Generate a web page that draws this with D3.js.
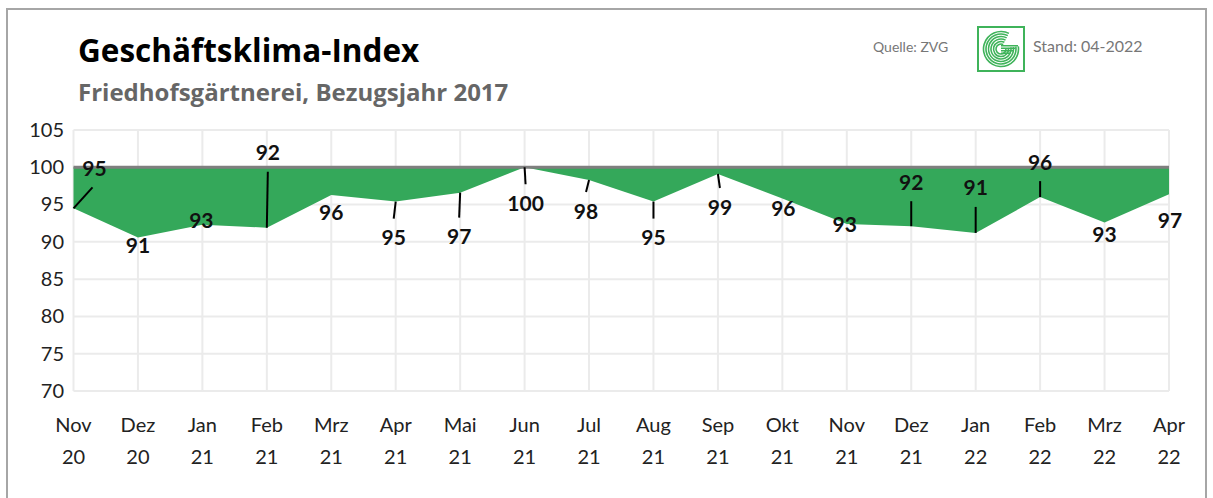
<!DOCTYPE html>
<html lang="de">
<head>
<meta charset="UTF-8">
<title>Geschäftsklima-Index</title>
<script src="https://cdn.jsdelivr.net/npm/d3@7"></script>
<style>
  body { margin: 0; background: #fff; }
  svg text { font-family: Lato, "Open Sans", sans-serif; }
  svg text.head { font-family: "Open Sans", Lato, sans-serif; }
</style>
</head>
<body>
<script>
// data
const months = ["Nov", "Dez", "Jan", "Feb", "Mrz", "Apr", "Mai", "Jun", "Jul", "Aug", "Sep", "Okt", "Nov", "Dez", "Jan", "Feb", "Mrz", "Apr"];
const years  = ["20", "20", "21", "21", "21", "21", "21", "21", "21", "21", "21", "21", "21", "21", "22", "22", "22", "22"];
const index  = [94.5, 90.6, 92.3, 91.9, 96.3, 95.4, 96.6, 100, 98.3, 95.4, 99.1, 95.8, 92.4, 92.1, 91.2, 96.0, 92.6, 96.4];
const valueLabels = ["95", "91", "93", "92", "96", "95", "97", "100", "98", "95", "99", "96", "93", "92", "91", "96", "93", "97"];
const baseline = 100;
const yTicks = [70, 75, 80, 85, 90, 95, 100, 105];

// label placement (px offset from the point), like the dragged Excel labels
const labelOffsets = [[21, -40], [0, 8], [-1, -4], [1, -75], [0, 18], [-2, 36], [-1, 44], [1, 36],
                      [-3, 31], [0, 36], [2, 33], [1, 10], [-2, 0], [0, -44], [0, -45], [0, -35], [0, 12], [1, 26]];

const W = 1213, H = 498;
const svg = d3.select("body").append("svg").attr("width", W).attr("height", H);

// frame
svg.append("rect").attr("x", 7).attr("y", 9).attr("width", 1199).attr("height", 520)
  .attr("fill", "none").attr("stroke", "#a6a6a6").attr("stroke-width", 2);

// titles
svg.append("text").attr("class", "head").attr("x", 78).attr("y", 62).text("Geschäftsklima-Index")
  .attr("font-size", 31.5).attr("font-weight", "bold").attr("fill", "#000");
svg.append("text").attr("class", "head").attr("x", 78).attr("y", 101).text("Friedhofsgärtnerei, Bezugsjahr 2017")
  .attr("font-size", 24).attr("font-weight", "bold").attr("fill", "#666");

svg.append("text").attr("x", 873).attr("y", 52).text("Quelle: ZVG")
  .attr("font-size", 14).attr("fill", "#777");
svg.append("text").attr("x", 1033).attr("y", 52).text("Stand: 04-2022")
  .attr("font-size", 16).attr("fill", "#777");

// logo
const logo = svg.append("g").attr("transform", "translate(977,26)");
logo.append("rect").attr("x", 1).attr("y", 1).attr("width", 46).attr("height", 44)
  .attr("fill", "#fff").attr("stroke", "#3fb35a").attr("stroke-width", 2);
const arc = d3.arc();
[5, 7.5, 10, 12.5, 15, 17.5].forEach(r => {
  logo.append("path").attr("transform", "translate(24,23)")
    .attr("d", arc({innerRadius: r - 0.8, outerRadius: r + 0.8, startAngle: Math.PI * 0.45, endAngle: Math.PI * 2.15}))
    .attr("fill", "#3fb35a");
});
[0, 2.5, 5, 7.5].forEach(d => {
  logo.append("rect").attr("x", 24).attr("y", 19 + d).attr("width", 17 - d).attr("height", 1.5).attr("fill", "#3fb35a");
});

// scales
const x = d3.scalePoint().domain(d3.range(months.length)).range([73.5, 1169]);
const y = d3.scaleLinear().domain([70, 105]).range([391, 130]);

// grid
svg.append("g").selectAll("line.h").data(yTicks).join("line")
  .attr("x1", x(0)).attr("x2", x(months.length - 1))
  .attr("y1", d => y(d)).attr("y2", d => y(d))
  .attr("stroke", "#ebebeb").attr("stroke-width", 2);
svg.append("g").selectAll("line.v").data(d3.range(months.length)).join("line")
  .attr("x1", d => x(d)).attr("x2", d => x(d))
  .attr("y1", y(105)).attr("y2", y(70))
  .attr("stroke", "#ebebeb").attr("stroke-width", 2);

// y axis labels
const yAxis = svg.append("g").attr("transform", "translate(64,0)")
  .call(d3.axisLeft(y).tickValues(yTicks).tickSize(0).tickPadding(0));
yAxis.select(".domain").remove();
yAxis.selectAll("text").attr("font-size", 20).attr("fill", "#222")
  .style("font-family", "Lato, 'Open Sans', sans-serif");

// x axis labels (two lines)
const xl = svg.append("g").selectAll("text").data(d3.range(months.length)).join("text")
  .attr("x", d => x(d)).attr("text-anchor", "middle").attr("font-size", 20).attr("fill", "#222");
xl.append("tspan").attr("x", d => x(d)).attr("y", 432).text(d => months[d]);
xl.append("tspan").attr("x", d => x(d)).attr("y", 464).text(d => years[d]);

// area between 100 and the index
const area = d3.area().x((d, i) => x(i)).y0(y(baseline)).y1(d => y(d));
svg.append("path").datum(index).attr("d", area).attr("fill", "#34a85a");

// 100 line
svg.append("line").attr("x1", x(0)).attr("x2", x(months.length - 1))
  .attr("y1", y(baseline)).attr("y2", y(baseline))
  .attr("stroke", "#7f7f7f").attr("stroke-width", 3);

// data labels with leader lines
const lab = svg.append("g");
index.forEach((v, i) => {
  const px = x(i), py = y(v);
  const [dx, dy] = labelOffsets[i];
  const lx = px + dx, ly = py + dy;
  if (Math.hypot(dx, dy) > 28) {
    const s = dy < 0 ? 1 : -1;
    lab.append("line").attr("x1", px).attr("y1", py).attr("x2", lx - (dx > 5 ? 2 : 0)).attr("y2", ly + s * 19)
      .attr("stroke", "#000").attr("stroke-width", 2);
  }
  lab.append("text").attr("x", lx).attr("y", ly).attr("dy", "0.36em")
    .attr("text-anchor", "middle").attr("font-size", 21).attr("font-weight", "bold")
    .attr("fill", "#111").text(valueLabels[i]);
});
</script>
</body>
</html>
